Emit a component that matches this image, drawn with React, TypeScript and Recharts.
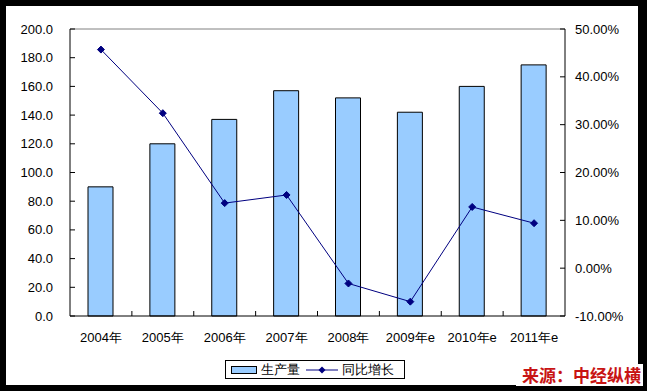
import { ComposedChart, Bar, Line, XAxis, YAxis, ReferenceLine } from 'recharts'

const years = ['2004年', '2005年', '2006年', '2007年', '2008年', '2009年e', '2010年e', '2011年e']
const output = [90, 120, 137, 157, 152, 142, 160, 175]
const growth = [45.7, 32.4, 13.6, 15.3, -3.2, -7.0, 12.8, 9.4]
const leftTicks = [0, 20, 40, 60, 80, 100, 120, 140, 160, 180, 200]
const rightTicks = [-10, 0, 10, 20, 30, 40, 50]

const barName = '生产量'
const lineName = '同比增长'

const data = years.map((year, i) => ({ year, output: output[i], growth: growth[i] }))

const FONT = '"Liberation Sans", Arial, sans-serif'
const NAVY = '#000080'
const BAR_FILL = '#99CCFF'

function LeftTick({ x, y, payload }: any) {
  return (
    <g>
      <line x1={x} x2={x + 5} y1={y} y2={y} stroke="#000" />
      <text x={x - 17} y={y + 4.5} textAnchor="end" fontSize={13} fill="#000" fontFamily={FONT}>
        {Number(payload.value).toFixed(1)}
      </text>
    </g>
  )
}

function RightTick({ x, y, payload }: any) {
  return (
    <g>
      <line x1={x} x2={x - 5} y1={y} y2={y} stroke="#000" />
      <text x={x + 10} y={y + 4.5} textAnchor="start" fontSize={13} fill="#000" fontFamily={FONT}>
        {Number(payload.value).toFixed(2) + '%'}
      </text>
    </g>
  )
}

function BottomTick({ x, y, payload, index }: any) {
  const half = payload.offset || 0
  return (
    <g>
      {index < years.length - 1 && (
        <line x1={x + half} x2={x + half} y1={y} y2={y - 5} stroke="#000" />
      )}
      <text x={x} y={y + 26} textAnchor="middle" fontSize={13} fill="#000" fontFamily={FONT}>
        {payload.value}
      </text>
    </g>
  )
}

function Diamond({ cx, cy }: any) {
  if (cx == null || cy == null) return null
  const r = 3.5
  return (
    <polygon
      points={`${cx},${cy - r} ${cx + r},${cy} ${cx},${cy + r} ${cx - r},${cy}`}
      fill={NAVY}
      stroke={NAVY}
    />
  )
}

export default function App() {
  return (
    <div style={{ position: 'relative', width: 647, height: 391, background: '#000', fontFamily: FONT }}>
      <style>{'body{margin:0}'}</style>
      <div style={{ position: 'absolute', left: 6, top: 6, width: 632, height: 379, background: '#fff' }}>
        <ComposedChart
          width={632}
          height={379}
          data={data}
          margin={{ top: 23, right: 3, left: 4, bottom: 39 }}
        >
          <XAxis
            dataKey="year"
            xAxisId="x"
            height={30}
            interval={0}
            tickLine={false}
            tickSize={0}
            tickMargin={0}
            axisLine={{ stroke: '#000' }}
            tick={<BottomTick />}
          />
          <YAxis
            yAxisId="left"
            width={60}
            domain={[0, 200]}
            ticks={leftTicks}
            interval={0}
            tickLine={false}
            tickSize={0}
            tickMargin={0}
            axisLine={{ stroke: '#000' }}
            tick={<LeftTick />}
          />
          <YAxis
            yAxisId="right"
            orientation="right"
            width={70}
            domain={[-10, 50]}
            ticks={rightTicks}
            interval={0}
            tickLine={false}
            tickSize={0}
            tickMargin={0}
            axisLine={{ stroke: '#000' }}
            tick={<RightTick />}
          />
          <ReferenceLine y={200} yAxisId="left" xAxisId="x" stroke="#808080" />
          <Bar
            dataKey="output"
            name={barName}
            xAxisId="x"
            yAxisId="left"
            barSize={25}
            fill={BAR_FILL}
            stroke="#000"
            strokeWidth={1}
            isAnimationActive={false}
          />
          <Line
            dataKey="growth"
            name={lineName}
            xAxisId="x"
            yAxisId="right"
            type="linear"
            stroke={NAVY}
            strokeWidth={1}
            dot={<Diamond />}
            activeDot={false}
            isAnimationActive={false}
          />
        </ComposedChart>
      </div>

      <div
        style={{
          position: 'absolute',
          left: 225,
          top: 360,
          width: 180,
          height: 19,
          border: '1px solid #000',
          background: '#fff',
          boxSizing: 'border-box',
          display: 'flex',
          alignItems: 'center',
          fontSize: 13,
          color: '#000',
          whiteSpace: 'nowrap',
        }}
      >
        <span
          style={{
            display: 'inline-block',
            width: 26,
            height: 8,
            marginLeft: 5,
            background: BAR_FILL,
            border: '1px solid #000',
            boxSizing: 'border-box',
          }}
        />
        <span style={{ marginLeft: 4 }}>{barName}</span>
        <svg width={32} height={10} style={{ marginLeft: 6 }}>
          <line x1={0} x2={32} y1={5} y2={5} stroke={NAVY} />
          <polygon points="16,1.5 19.5,5 16,8.5 12.5,5" fill={NAVY} />
        </svg>
        <span style={{ marginLeft: 4 }}>{lineName}</span>
      </div>

      <div
        style={{
          position: 'absolute',
          left: 516,
          top: 364,
          paddingLeft: 6,
          paddingRight: 2,
          height: 22,
          background: '#fff',
          color: '#C81414',
          fontWeight: 'bold',
          fontSize: 17,
          lineHeight: '22px',
          fontFamily: '"Noto Sans CJK SC", sans-serif',
          whiteSpace: 'nowrap',
        }}
      >
        来源：中经纵横
      </div>
    </div>
  )
}
